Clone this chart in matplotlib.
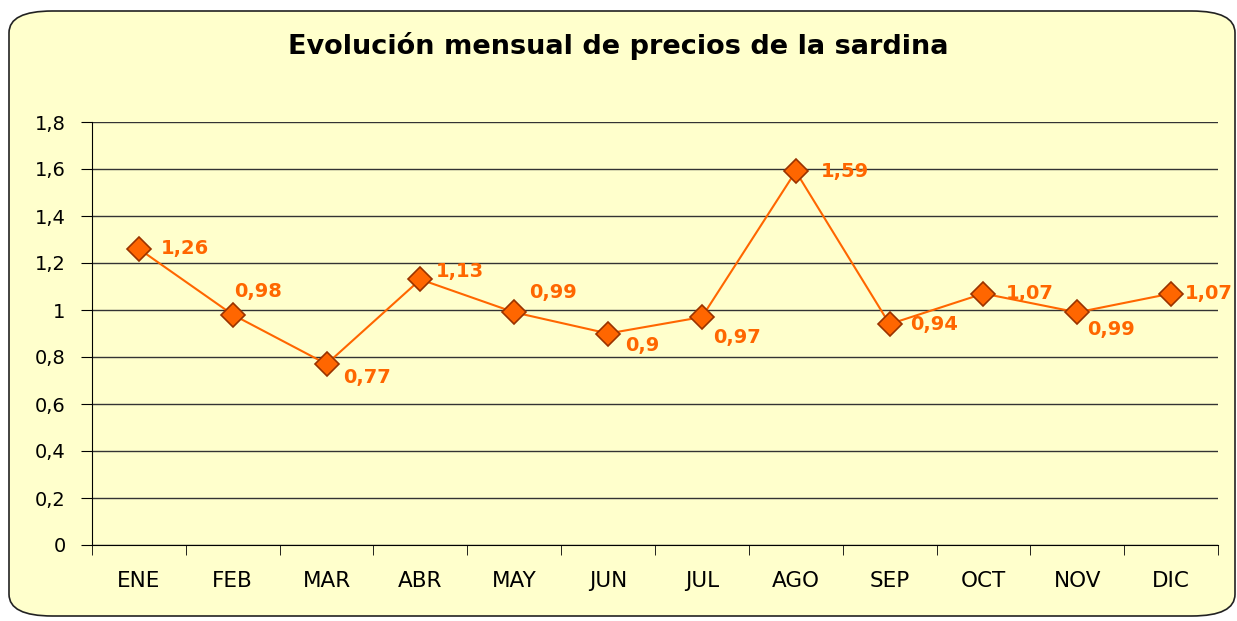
import matplotlib
matplotlib.use("Agg")
import matplotlib.pyplot as plt
import numpy as np
from matplotlib.patches import FancyBboxPatch

# datos
meses = ["ENE", "FEB", "MAR", "ABR", "MAY", "JUN", "JUL", "AGO", "SEP", "OCT", "NOV", "DIC"]
precios = [1.26, 0.98, 0.77, 1.13, 0.99, 0.90, 0.97, 1.59, 0.94, 1.07, 0.99, 1.07]
etiquetas = ["1,26", "0,98", "0,77", "1,13", "0,99", "0,9", "0,97", "1,59", "0,94", "1,07", "0,99", "1,07"]
yticks = [0, 0.2, 0.4, 0.6, 0.8, 1.0, 1.2, 1.4, 1.6, 1.8]
ylabels = ["0", "0,2", "0,4", "0,6", "0,8", "1", "1,2", "1,4", "1,6", "1,8"]

# desplazamiento de las etiquetas (en puntos)
offsets = [(16, 0), (1, 17), (12, -10), (11, 6), (11, 14), (12, -9),
           (8, -15), (18, 0), (15, 0), (16, 0), (7, -12), (10, 0)]

naranja = "#FF6600"

fig = plt.figure(figsize=(12.37, 6.21), dpi=100)
fig.patch.set_facecolor("white")

caja = FancyBboxPatch((9 / 1237, 5 / 621), 1226 / 1237, 605 / 621,
                      boxstyle="round,pad=0,rounding_size=0.035",
                      transform=fig.transFigure, facecolor="#FFFFCC",
                      edgecolor="#222222", linewidth=1.2, zorder=-10)
fig.patches.append(caja)

ax = fig.add_axes([92 / 1237, 76 / 621, 1126 / 1237, 423 / 621])
ax.set_facecolor("none")

x = np.arange(1, len(meses) + 1)
ax.plot(x, precios, color=naranja, linewidth=1.5, marker="D", markersize=12,
        markerfacecolor=naranja, markeredgecolor="#993300", markeredgewidth=1.2,
        zorder=5, clip_on=False)

for xi, yi, txt, off in zip(x, precios, etiquetas, offsets):
    ax.annotate(txt, (xi, yi), xytext=off, textcoords="offset points",
                ha="left", va="center", color=naranja, fontsize=14,
                fontweight="bold", family="DejaVu Sans", zorder=6)

ax.set_xlim(0.5, 12.5)
ax.set_ylim(0, 1.8)
ax.set_yticks(yticks)
ax.set_yticklabels(ylabels, fontsize=14, family="DejaVu Sans")
ax.set_xticks(x)
ax.set_xticklabels(meses, fontsize=15.5, family="DejaVu Sans")
ax.set_xticks(np.arange(0.5, 13.0, 1.0), minor=True)
ax.tick_params(axis="x", which="major", length=0, pad=19)
ax.tick_params(axis="x", which="minor", length=7, direction="out", color="black")
ax.tick_params(axis="y", length=8, direction="out", color="black", pad=11)

ax.grid(axis="y", color="#333333", linewidth=1)
ax.set_axisbelow(True)
for s in ["top", "right"]:
    ax.spines[s].set_visible(False)
ax.spines["left"].set_color("black")
ax.spines["bottom"].set_color("black")

fig.text(0.5, 575 / 621, "Evolución mensual de precios de la sardina", ha="center", va="center",
         fontsize=19.5, fontweight="bold", family="DejaVu Sans")

fig.savefig("out.png", dpi=100)
